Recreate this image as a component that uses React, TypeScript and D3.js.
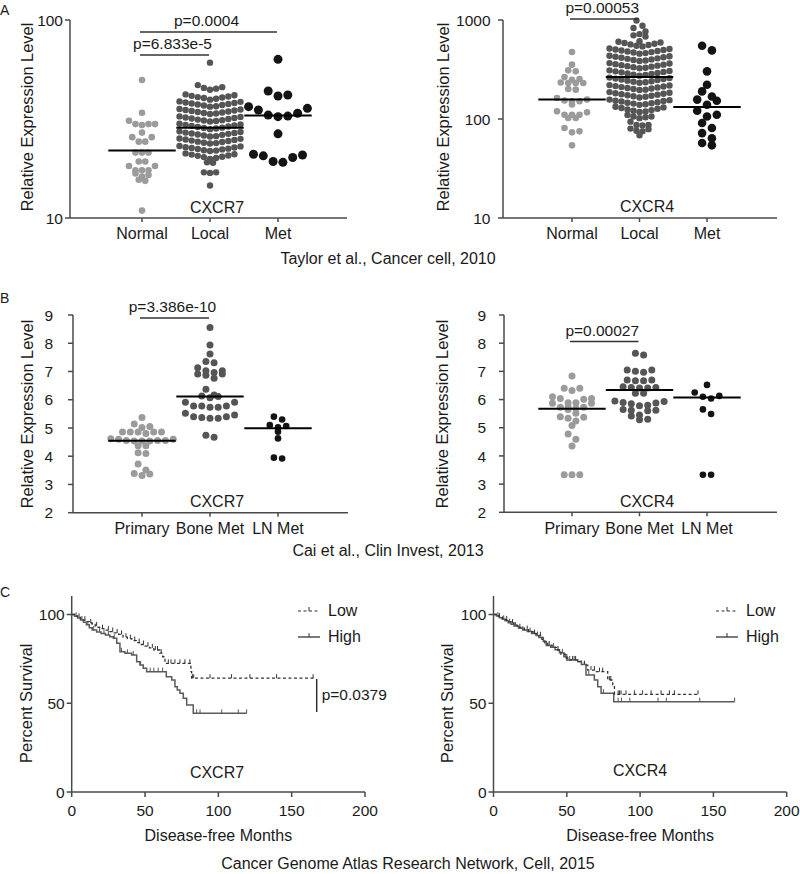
import React from 'react';
import * as d3 from 'd3';

const FONT = '"Liberation Sans", Arial, Helvetica, sans-serif';
const AX = '#4a4a4a';
const TXT = '#1a1a1a';
const LIGHT = '#9b9b9b';
const DARK = '#555555';
const BLACK = '#141414';
const FS = 16;

// ---------- Panel A: Taylor et al. (log scale) ----------
const catsA = ['Normal', 'Local', 'Met'];
const ticksA7 = [10, 100];
const ticksA4 = [10, 100, 1000];

const normalCXCR7 = [49.8, 34.0, 31.0, 29.8, 29.8, 29.8, 29.5, 27.0, 25.6, 25.6, 24.3, 24.3, 21.4, 21.4, 21.4, 19.3, 19.3, 18.3, 18.3, 17.4, 17.4, 17.4, 16.8, 16.5, 16.2, 15.6, 15.4, 10.9];
const localCXCR7 = [
  60.9, 46.9, 45.8, 45.0, 44.4, 45.4,
  39.6, 40.0, 40.4, 40.6, 40.8, 41.1, 41.4, 41.7, 42.1,
  36.5, 36.7, 37.0, 37.2, 37.4, 37.7, 37.9, 38.1, 38.3, 38.6, 38.8,
  33.5, 33.7, 33.9, 34.1, 34.3, 34.5, 34.7, 34.9, 35.1, 35.3, 35.5,
  30.7, 30.9, 31.1, 31.2, 31.4, 31.6, 31.8, 32.0, 32.2, 32.4, 32.6,
  28.1, 28.3, 28.5, 28.6, 28.8, 29.0, 29.2, 29.3, 29.5, 29.7, 29.9,
  25.8, 25.9, 26.1, 26.3, 26.4, 26.6, 26.7, 26.9, 27.0, 27.2, 27.4,
  23.8, 23.9, 24.0, 24.2, 24.3, 24.5, 24.6, 24.8, 24.9, 25.1, 25.2,
  21.8, 21.9, 22.0, 22.2, 22.3, 22.4, 22.6, 22.7, 22.8, 23.0, 23.1,
  19.9, 20.1, 20.3, 20.4, 20.6, 20.7, 20.9, 21.0, 21.2,
  19.1, 19.0, 17.0, 16.9, 17.0, 14.6,
];
const metCXCR7 = [63.3, 43.8, 41.8, 41.3, 36.5, 35.8, 35.1, 33.8, 33.1, 32.7, 32.5, 26.6, 21.0, 20.8, 20.6, 20.2, 19.3, 19.1];
const centerA7 = [21.9, 28.6, 32.9];

const normalCXCR4 = [475, 354, 310, 303, 265, 253, 249, 234, 231, 231, 231, 201, 198, 163, 157, 154, 151, 151, 140, 119.5, 116.7, 110.5, 110.5, 110.5, 102.3, 102.3, 81, 75, 73.3, 54.2];
const localCXCR4 = [
  990, 875, 830, 767, 720, 700, 680,
  541, 550, 559, 567, 576, 585, 593, 602, 611,
  457, 463, 469, 474, 480, 486, 492, 498, 504, 509, 515,
  385, 390, 395, 400, 405, 410, 415, 420, 425, 430, 435,
  325, 329, 334, 338, 342, 346, 350, 354, 358, 363, 367,
  274, 278, 281, 285, 288, 292, 296, 299, 303, 306, 310,
  232, 235, 238, 241, 244, 247, 250, 253, 256, 259, 262,
  196, 198, 201, 203, 206, 208, 210, 213, 215, 218, 220,
  165, 168, 170, 172, 174, 176, 178, 180, 182, 184, 187,
  139, 141, 143, 144, 146, 148, 150, 152, 153, 155, 157,
  118, 119, 121, 123, 125, 127, 129, 131, 133,
  106, 104, 102, 106, 110, 94, 87, 87, 86, 80, 76, 75, 79, 68.4,
];
const metCXCR4 = [550, 493, 303, 222, 190, 169, 157, 153, 139.5, 121, 110.5, 106, 91, 81, 72, 64, 57.2, 54.2];
const centerA4 = [157, 265, 132];

// ---------- Panel B: Cai et al. (linear) ----------
const catsB = ['Primary', 'Bone Met', 'LN Met'];
const ticksB = [2, 3, 4, 5, 6, 7, 8, 9];

const primaryCXCR7 = [5.37, 5.14, 5.05, 5.02, 4.86, 4.86, 4.86, 4.86, 4.86, 4.80, 4.62, 4.60, 4.56, 4.54, 4.54, 4.56, 4.56, 4.54, 4.60, 4.37, 4.37, 4.12, 4.10, 3.72, 3.51, 3.39, 3.37, 3.32];
const boneCXCR7 = [8.56, 7.94, 7.62, 7.35, 7.31, 7.13, 7.03, 6.96, 6.91, 6.87, 6.91, 7.03, 6.76, 6.37, 6.17, 6.11, 6.07, 6.13, 5.91, 5.91, 5.78, 5.78, 5.73, 5.78, 5.73, 5.46, 5.40, 5.34, 5.34, 5.37, 5.40, 5.52, 4.74, 4.67];
const lnCXCR7 = [5.40, 5.30, 5.10, 5.07, 5.02, 4.87, 4.63, 3.95, 3.92];
const centerB7 = [4.55, 6.11, 4.99];

const primaryCXCR4 = [6.84, 6.40, 6.40, 6.32, 6.10, 6.04, 6.01, 6.04, 5.89, 5.87, 5.87, 5.89, 5.73, 5.73, 5.73, 5.69, 5.65, 5.51, 5.39, 5.37, 5.34, 5.24, 5.08, 4.78, 4.59, 4.35, 3.33, 3.33, 3.33];
const boneCXCR4 = [7.64, 7.58, 7.05, 7.00, 6.97, 7.05, 6.69, 6.67, 6.67, 6.69, 6.43, 6.41, 6.43, 6.41, 6.45, 6.22, 6.22, 5.95, 5.90, 5.85, 5.88, 5.93, 5.80, 5.78, 5.62, 5.60, 5.62, 5.65, 5.45, 5.42, 5.30, 5.28];
const lnCXCR4 = [6.52, 6.25, 6.13, 6.10, 6.04, 5.65, 5.49, 3.33, 3.33];
const centerB4 = [5.67, 6.34, 6.07];

// ---------- Panel C: TCGA Kaplan-Meier ----------
const kmTicksX = [0, 50, 100, 150, 200];
const kmTicksY = [0, 50, 100];

const lowKM7: [number, number][] = [[0, 100], [2, 99.2], [4, 98.4], [6, 97.6], [8, 96.8], [10, 96.0], [12, 95.2], [14, 94.4], [16, 93.6], [18, 92.8], [20, 92.0], [23, 91.2], [26, 90.4], [29, 89.6], [32, 88.8], [35, 87.2], [38, 86.4], [41, 85.3], [44, 84.2], [47, 83.1], [50, 82.2], [53, 81.2], [56, 80.0], [60, 78.2], [62, 76.2], [63.6, 72.5], [81.3, 67.8], [81.8, 64.1]];
const lowKM7End = 166;
const lowCens7 = [5, 9, 13, 17, 21, 25, 28, 31, 34, 37, 40, 43, 46, 49, 52, 55, 57, 58.5, 61, 65.9, 67.7, 70.4, 73.8, 77.2, 80.6, 82.3, 83.2, 94.3, 109, 121.5, 139.7, 164.6];
const highKM7: [number, number][] = [[0, 100], [2, 99], [4, 98], [6, 96.9], [8, 95.6], [10, 94.2], [12, 92.6], [14, 91.3], [17, 90.2], [20, 89.3], [23, 88.5], [26, 87.5], [28.4, 86.6], [30.7, 83.8], [32.9, 79.0], [36.3, 78.1], [40.9, 77.2], [44.3, 73.4], [46.5, 71.5], [48.8, 69.7], [51.1, 67.8], [64.5, 65.0], [68.2, 63.1], [70.4, 59.3], [72.0, 57.5], [73.8, 55.6], [76.1, 52.8], [78.4, 49.0], [82.9, 44.3]];
const highKM7End = 119.3;
const highCens7 = [3, 7, 11, 15, 19, 22, 25, 29, 34, 38, 42, 47, 53.5, 56, 59, 62, 85.2, 87.5, 102.3, 113.6, 119.3];

const lowKM4: [number, number][] = [[0, 100], [2, 99.3], [4, 98.6], [6, 97.8], [8, 96.9], [10, 96.0], [12, 95.2], [14, 94.2], [16, 93.4], [18, 92.5], [21, 91.5], [24, 90.3], [27, 89.2], [30, 88.0], [33, 86.0], [35, 84.0], [37, 82.8], [40, 81.5], [43, 80.0], [46, 77.6], [49, 75.5], [52, 74.4], [58, 73.6], [62, 71.5], [64.3, 68.7], [70, 67.8], [77.9, 63.1], [81.3, 59.3], [82.5, 55.0]];
const lowKM4End = 139.5;
const lowCens4 = [4, 9, 13, 18, 23, 28, 32, 38, 44, 50, 54, 56, 66.5, 68.8, 72.3, 74.5, 79, 80, 85, 86, 87, 90.4, 96.1, 101.7, 107.5, 114.3, 120, 123.4, 139.5];
const highKM4: [number, number][] = [[0, 100], [2, 99.1], [4, 98.2], [6, 97.3], [8, 96.5], [10, 95.4], [12, 94.5], [14, 93.5], [17, 92.4], [20, 91.2], [23, 90.4], [26, 89.3], [29, 88.2], [31, 87.1], [34, 84.8], [36, 82.6], [39, 81.6], [42, 80.2], [45, 78.4], [48, 76.2], [50, 74.4], [57.5, 73.4], [60, 71.8], [63.1, 65.9], [68.8, 63.1], [71.1, 59.3], [73.4, 55.6], [82, 50.9]];
const highKM4End = 164.5;
const highCens4 = [3, 7, 11, 15, 20, 25, 30, 36, 41, 47, 52, 55, 60, 65, 75, 85, 87.3, 93, 112.2, 117.9, 140.7, 164.5];

// ---------- helpers ----------
type Group = { values: number[]; color: string; r: number; spacing: number; rowGap: number };

function swarm(values: number[], y: (v: number) => number, cx: number, spacing: number, rowGap: number) {
  const pts = values.map((v) => ({ v, py: y(v) })).sort((a, b) => a.py - b.py);
  const rows: { v: number; py: number }[][] = [];
  let cur: { v: number; py: number }[] = [];
  let start = 0;
  for (const p of pts) {
    if (cur.length === 0 || p.py - start >= rowGap) {
      if (cur.length) rows.push(cur);
      cur = [p];
      start = p.py;
    } else cur.push(p);
  }
  if (cur.length) rows.push(cur);
  const out: { x: number; y: number }[] = [];
  for (const row of rows) {
    const n = row.length;
    const slots = d3.range(n).map((i) => i - (n - 1) / 2);
    slots.sort((a, b) => Math.abs(a) - Math.abs(b) || b - a);
    const byVal = row.slice().sort((a, b) => a.v - b.v);
    byVal.forEach((p, i) => out.push({ x: cx + slots[i] * spacing, y: p.py }));
  }
  return out;
}

type Bracket = { from: number; to: number; y: number; label: string };

function ScatterPanel(p: {
  x0: number; x1: number; yTop: number; yBot: number; log: boolean; domain: [number, number];
  ticks: number[]; tickGap: number; cats: string[]; catX: [number, number]; catLabelY: number;
  groups: Group[]; centers: number[]; gene: string; geneX: number; geneY: number;
  titleX: number; titleY: number; brackets: Bracket[];
}) {
  const y: any = p.log
    ? d3.scaleLog().domain(p.domain).range([p.yBot, p.yTop])
    : d3.scaleLinear().domain(p.domain).range([p.yBot, p.yTop]);
  const x = d3.scalePoint<string>().domain(p.cats).range(p.catX);
  const half = 33.7;
  return (
    <g>
      {p.groups.map((g, gi) => {
        const pts = swarm(g.values, y, x(p.cats[gi]) as number, g.spacing, g.rowGap);
        return (
          <g key={gi}>
            {pts.map((d, i) => (
              <circle key={i} cx={d.x} cy={d.y} r={g.r} fill={g.color} />
            ))}
          </g>
        );
      })}
      {p.centers.map((c, i) => (
        <line key={i} x1={(x(p.cats[i]) as number) - half} x2={(x(p.cats[i]) as number) + half} y1={y(c)} y2={y(c)} stroke="#000" strokeWidth={2} />
      ))}
      <line x1={p.x0} x2={p.x0} y1={p.yTop} y2={p.yBot} stroke={AX} strokeWidth={1.5} />
      <line x1={p.x0} x2={p.x1} y1={p.yBot} y2={p.yBot} stroke={AX} strokeWidth={1.5} />
      {p.ticks.map((t) => (
        <g key={t}>
          <line x1={p.x0 - 5} x2={p.x0} y1={y(t)} y2={y(t)} stroke={AX} strokeWidth={1.5} />
          <text x={p.x0 - p.tickGap} y={y(t)} dy="0.36em" textAnchor="end" fontSize={15.5} fill={TXT}>{t}</text>
        </g>
      ))}
      {p.cats.map((c) => (
        <g key={c}>
          <line x1={x(c)} x2={x(c)} y1={p.yBot} y2={p.yBot + 4} stroke={AX} strokeWidth={1.5} />
          <text x={x(c)} y={p.catLabelY} textAnchor="middle" fontSize={FS} fill={TXT}>{c}</text>
        </g>
      ))}
      <text x={p.geneX} y={p.geneY} textAnchor="middle" fontSize={FS} fill={TXT}>{p.gene}</text>
      <text transform={`translate(${p.titleX},${p.titleY}) rotate(-90)`} textAnchor="middle" dy="0.36em" fontSize={16.4} fill={TXT}>Relative Expression Level</text>
      {p.brackets.map((b, i) => {
        const xa = (x(p.cats[b.from]) as number) - 2;
        const xb = (x(p.cats[b.to]) as number) - 1;
        return (
          <g key={i}>
            <line x1={xa} x2={xb} y1={b.y} y2={b.y} stroke="#333" strokeWidth={1.5} />
            <text x={(xa + xb) / 2 - 2} y={b.y - 6} textAnchor="middle" fontSize={15.5} fill={TXT}>{b.label}</text>
          </g>
        );
      })}
    </g>
  );
}

function survAt(steps: [number, number][], t: number) {
  let s = steps[0][1];
  for (const [tt, ss] of steps) if (tt <= t) s = ss;
  return s;
}

function KMPanel(p: {
  x0: number; x200: number; y100: number; y0: number; yAxisTop: number;
  low: [number, number][]; lowEnd: number; lowCens: number[];
  high: [number, number][]; highEnd: number; highCens: number[];
  gene: string; geneX: number; geneY: number; legendX: number; titleX: number;
  pval?: { x: number; y1: number; y2: number; label: string };
}) {
  const x = d3.scaleLinear().domain([0, 200]).range([p.x0, p.x200]);
  const y = d3.scaleLinear().domain([0, 100]).range([p.y0, p.y100]);
  const line = d3.line<[number, number]>().x((d) => x(d[0])).y((d) => y(d[1])).curve(d3.curveStepAfter);
  const lowPts: [number, number][] = [...p.low, [p.lowEnd, p.low[p.low.length - 1][1]]];
  const highPts: [number, number][] = [...p.high, [p.highEnd, p.high[p.high.length - 1][1]]];
  const tick = 4;
  return (
    <g>
      <path d={line(highPts) || ''} fill="none" stroke="#5a5a5a" strokeWidth={1.5} />
      <path d={line(lowPts) || ''} fill="none" stroke="#333" strokeWidth={1.3} strokeDasharray="3,2.5" />
      {p.highCens.map((t, i) => (
        <line key={'h' + i} x1={x(t)} x2={x(t)} y1={y(survAt(p.high, t))} y2={y(survAt(p.high, t)) - tick} stroke="#555" strokeWidth={1} />
      ))}
      {p.lowCens.map((t, i) => (
        <line key={'l' + i} x1={x(t)} x2={x(t)} y1={y(survAt(p.low, t))} y2={y(survAt(p.low, t)) - tick} stroke="#333" strokeWidth={1} />
      ))}
      <line x1={p.x0} x2={p.x0} y1={p.yAxisTop} y2={p.y0} stroke={AX} strokeWidth={1.5} />
      <line x1={p.x0} x2={p.x200} y1={p.y0} y2={p.y0} stroke={AX} strokeWidth={1.5} />
      {kmTicksY.map((t) => (
        <g key={t}>
          <line x1={p.x0 - 5} x2={p.x0} y1={y(t)} y2={y(t)} stroke={AX} strokeWidth={1.5} />
          <text x={p.x0 - 7} y={y(t)} dy="0.36em" textAnchor="end" fontSize={15.5} fill={TXT}>{t}</text>
        </g>
      ))}
      {kmTicksX.map((t) => (
        <g key={t}>
          <line x1={x(t)} x2={x(t)} y1={p.y0} y2={p.y0 + 5} stroke={AX} strokeWidth={1.5} />
          <text x={x(t)} y={p.y0 + 24} textAnchor="middle" fontSize={15.5} fill={TXT}>{t}</text>
        </g>
      ))}
      <text x={x(100)} y={p.y0 + 49} textAnchor="middle" fontSize={FS} fill={TXT}>Disease-free Months</text>
      <text transform={`translate(${p.titleX},${(p.y0 + p.y100) / 2}) rotate(-90)`} textAnchor="middle" dy="0.36em" fontSize={16.4} fill={TXT}>Percent Survival</text>
      <text x={p.geneX} y={p.geneY} textAnchor="middle" fontSize={FS} fill={TXT}>{p.gene}</text>
      <line x1={p.legendX} x2={p.legendX + 22} y1={611} y2={611} stroke="#333" strokeWidth={1.2} strokeDasharray="3,2.5" />
      <line x1={p.legendX + 11} x2={p.legendX + 11} y1={611} y2={607} stroke="#333" strokeWidth={1} />
      <text x={p.legendX + 30} y={616} fontSize={FS} fill={TXT}>Low</text>
      <line x1={p.legendX} x2={p.legendX + 22} y1={637} y2={637} stroke="#333" strokeWidth={1.3} />
      <line x1={p.legendX + 11} x2={p.legendX + 11} y1={637} y2={633} stroke="#333" strokeWidth={1} />
      <text x={p.legendX + 30} y={642} fontSize={FS} fill={TXT}>High</text>
      {p.pval && (
        <g>
          <line x1={p.pval.x} x2={p.pval.x} y1={p.pval.y1} y2={p.pval.y2} stroke="#333" strokeWidth={1.5} />
          <text x={p.pval.x + 5} y={(p.pval.y1 + p.pval.y2) / 2 + 4} fontSize={15.5} fill={TXT}>{p.pval.label}</text>
        </g>
      )}
    </g>
  );
}

export default function App() {
  return (
    <svg width={800} height={874} style={{ position: 'absolute', left: 0, top: 0, background: '#fff' }} fontFamily={FONT}>
      <rect width={800} height={874} fill="#fff" />
      <text x={0} y={15} fontSize={14} fill={TXT}>A</text>
      <text x={0} y={303} fontSize={14} fill={TXT}>B</text>
      <text x={0} y={597} fontSize={14} fill={TXT}>C</text>

      <ScatterPanel
        x0={70} x1={347} yTop={20} yBot={218} log={true} domain={[10, 100]} ticks={ticksA7} tickGap={7}
        cats={catsA} catX={[142, 278]} catLabelY={239}
        groups={[
          { values: normalCXCR7, color: LIGHT, r: 3.3, spacing: 6.5, rowGap: 4.5 },
          { values: localCXCR7, color: DARK, r: 3.2, spacing: 6.1, rowGap: 6.2 },
          { values: metCXCR7, color: BLACK, r: 4.5, spacing: 9.8, rowGap: 10 },
        ]}
        centers={centerA7} gene="CXCR7" geneX={217} geneY={213} titleX={27} titleY={117}
        brackets={[
          { from: 0, to: 1, y: 55, label: 'p=6.833e-5' },
          { from: 0, to: 2, y: 32, label: 'p=0.0004' },
        ]}
      />
      <ScatterPanel
        x0={503} x1={777} yTop={20} yBot={218} log={true} domain={[10, 1000]} ticks={ticksA4} tickGap={12.5}
        cats={catsA} catX={[572, 707]} catLabelY={239}
        groups={[
          { values: normalCXCR4, color: LIGHT, r: 3.3, spacing: 7.5, rowGap: 4.5 },
          { values: localCXCR4, color: DARK, r: 3.2, spacing: 6.0, rowGap: 6.2 },
          { values: metCXCR4, color: BLACK, r: 4.3, spacing: 9.8, rowGap: 6 },
        ]}
        centers={centerA4} gene="CXCR4" geneX={647} geneY={212} titleX={443} titleY={117}
        brackets={[{ from: 0, to: 1, y: 19, label: 'p=0.00053' }]}
      />
      <text x={388} y={264} textAnchor="middle" fontSize={FS} fill={TXT}>Taylor et al., Cancer cell, 2010</text>

      <ScatterPanel
        x0={73} x1={348} yTop={315} yBot={512.7} log={false} domain={[2, 9]} ticks={ticksB} tickGap={20}
        cats={catsB} catX={[142, 278]} catLabelY={534}
        groups={[
          { values: primaryCXCR7, color: LIGHT, r: 3.5, spacing: 7.8, rowGap: 6 },
          { values: boneCXCR7, color: DARK, r: 3.5, spacing: 8.2, rowGap: 6 },
          { values: lnCXCR7, color: BLACK, r: 3.3, spacing: 8.2, rowGap: 6 },
        ]}
        centers={centerB7} gene="CXCR7" geneX={217} geneY={507} titleX={27} titleY={414}
        brackets={[{ from: 0, to: 1, y: 318, label: 'p=3.386e-10' }]}
      />
      <ScatterPanel
        x0={504} x1={777} yTop={315} yBot={512.3} log={false} domain={[2, 9]} ticks={ticksB} tickGap={18}
        cats={catsB} catX={[572, 707]} catLabelY={534}
        groups={[
          { values: primaryCXCR4, color: LIGHT, r: 3.5, spacing: 7.8, rowGap: 6 },
          { values: boneCXCR4, color: DARK, r: 3.5, spacing: 8.2, rowGap: 6 },
          { values: lnCXCR4, color: BLACK, r: 3.3, spacing: 8.2, rowGap: 6 },
        ]}
        centers={centerB4} gene="CXCR4" geneX={647} geneY={507} titleX={442} titleY={414}
        brackets={[{ from: 0, to: 1, y: 341.5, label: 'p=0.00027' }]}
      />
      <text x={388} y={556} textAnchor="middle" fontSize={FS} fill={TXT}>Cai et al., Clin Invest, 2013</text>

      <KMPanel
        x0={71.7} x200={365} y100={614.5} y0={792} yAxisTop={596}
        low={lowKM7} lowEnd={lowKM7End} lowCens={lowCens7}
        high={highKM7} highEnd={highKM7End} highCens={highCens7}
        gene="CXCR7" geneX={217} geneY={778} legendX={298} titleX={26}
        pval={{ x: 316.7, y1: 679, y2: 712, label: 'p=0.0379' }}
      />
      <KMPanel
        x0={493.5} x200={786.7} y100={614.5} y0={792} yAxisTop={596}
        low={lowKM4} lowEnd={lowKM4End} lowCens={lowCens4}
        high={highKM4} highEnd={highKM4End} highCens={highCens4}
        gene="CXCR4" geneX={640} geneY={776} legendX={716} titleX={447}
      />
      <text x={408} y={869} textAnchor="middle" fontSize={FS} fill={TXT}>Cancer Genome Atlas Research Network, Cell, 2015</text>
    </svg>
  );
}
